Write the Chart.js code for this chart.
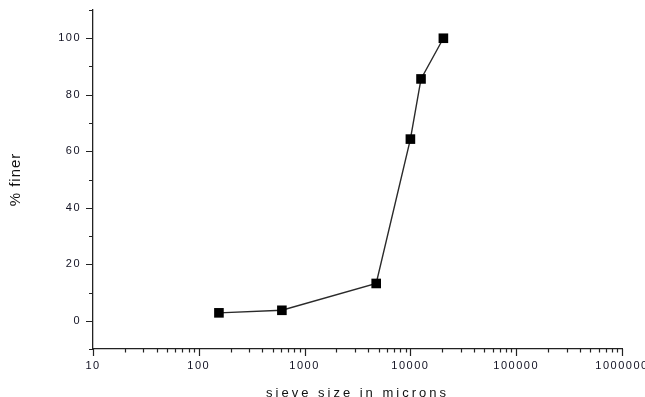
<!DOCTYPE html>
<html>
<head>
<meta charset="utf-8">
<script src="https://cdn.jsdelivr.net/npm/chart.js@4"></script>
<style>
  html, body { margin: 0; padding: 0; background: #fff; }
  #wrap { width: 645px; height: 397px; }
</style>
</head>
<body>
<div id="wrap"><canvas id="c" width="645" height="397"></canvas></div>
<script>
"use strict";
// sieve sizes (microns) and percent finer
const sieveSizes = [155, 610, 4750, 10000, 12600, 20500];
const percentFiner = [2.8, 3.7, 13.2, 64.3, 85.6, 100];
const xTickLabels = [10, 100, 1000, 10000, 100000, 1000000];
const yTickLabels = [0, 20, 40, 60, 80, 100];

// tick marks: long at labelled values, short in between
const tickMarks = {
    id: "tickMarks",
    afterDraw(chart) {
        let ctx = chart.ctx;
        let x = chart.scales.x, y = chart.scales.y;
        ctx.save();
        ctx.strokeStyle = "#222";
        ctx.lineWidth = 1.2;
        ctx.beginPath();
        for (let d = 1; d <= 6; d++) {
            for (let m = 1; m <= 9; m++) {
                let v = m * Math.pow(10, d);
                if (v > 1000000) break;
                let px = Math.round(x.getPixelForValue(v)) + 0.5;
                let len = (m == 1) ? 7 : 3.5;
                ctx.moveTo(px, x.top);
                ctx.lineTo(px, x.top + len);
            }
        }
        for (let v = -10; v <= 110; v += 10) {
            let py = Math.round(y.getPixelForValue(v)) + 0.5;
            let len = (v % 20 == 0 && v >= 0 && v <= 100) ? 7 : 4;
            ctx.moveTo(y.right, py);
            ctx.lineTo(y.right - len, py);
        }
        ctx.stroke();
        ctx.restore();
    }
};

// the picture has widely spaced letters, more for some texts than others
const spacing = {
    id: "spacing",
    beforeInit(chart) {
        let ctx = chart.ctx;
        let orig = ctx.fillText;
        ctx.fillText = function(t, px, py, w) {
            let f = this.font;
            if (f.indexOf("13px") >= 0) this.letterSpacing = "3px";
            else if (f.indexOf("11px") >= 0) this.letterSpacing = "1.5px";
            else if (f.indexOf("15px") >= 0) this.letterSpacing = "1px";
            else this.letterSpacing = "0px";
            return orig.call(this, t, px, py, w);
        };
    }
};

new Chart(document.getElementById("c"), {
    type: "line",
    data: {
        datasets: [{
            data: sieveSizes.map((s, i) => ({ x: s, y: percentFiner[i] })),
            borderColor: "#2a2a2a",
            borderWidth: 1.4,
            pointStyle: "rect",
            pointRadius: 6.8,
            pointBackgroundColor: "#000",
            pointBorderColor: "#000",
            pointBorderWidth: 0,
            tension: 0
        }]
    },
    options: {
        responsive: false,
        animation: false,
        layout: { padding: { top: 10, right: 23, left: 0, bottom: 0 } },
        plugins: { legend: { display: false }, tooltip: { enabled: false } },
        scales: {
            x: {
                type: "logarithmic",
                min: 10, max: 1000000,
                grid: { display: true, drawOnChartArea: false, drawTicks: false },
                border: { display: true, color: "#222", width: 1.3 },
                afterBuildTicks(s) { s.ticks = xTickLabels.map(v => ({ value: v })); },
                afterFit(s) { s.height = 48; s.paddingLeft = 0; s.paddingRight = 0; },
                ticks: {
                    autoSkip: false, maxRotation: 0, padding: 10,
                    color: "#111122", font: { family: "Liberation Sans", size: 11 },
                    callback: v => String(v)
                },
                title: {
                    display: true, text: "sieve size in microns",
                    color: "#111", font: { family: "Liberation Sans", size: 13 },
                    padding: { top: 0, bottom: -4 }
                }
            },
            y: {
                min: -10, max: 110,
                grid: { display: true, drawOnChartArea: false, drawTicks: false },
                border: { display: true, color: "#222", width: 1.3 },
                afterBuildTicks(s) { s.ticks = yTickLabels.map(v => ({ value: v })); },
                afterFit(s) { s.width = 93; s.paddingTop = 0; s.paddingBottom = 0; },
                ticks: {
                    padding: 12,
                    color: "#111122", font: { family: "Liberation Sans", size: 11 },
                    callback: v => String(v)
                },
                title: {
                    display: true, text: "% finer",
                    color: "#111", font: { family: "Liberation Sans", size: 15 },
                    padding: { top: 7, bottom: 0 }
                }
            }
        }
    },
    plugins: [tickMarks, spacing]
});
</script>
</body>
</html>
